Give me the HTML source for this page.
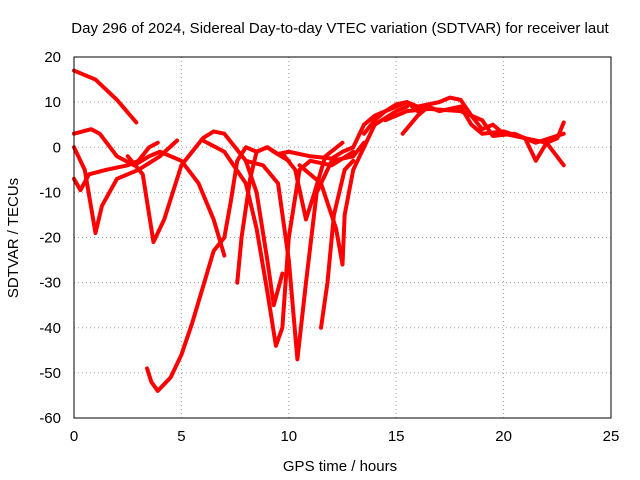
<!DOCTYPE html>
<html><head><meta charset="utf-8"><style>
body{margin:0;background:#fff;}
svg{display:block;font-family:"Liberation Sans",sans-serif;}
</style></head><body>
<svg id="chart" width="640" height="480" viewBox="0 0 640 480">
<rect width="640" height="480" fill="#fff"/>
<text x="340" y="33" font-size="15" text-anchor="middle">Day 296 of 2024, Sidereal Day-to-day VTEC variation (SDTVAR) for receiver laut</text>
<text x="340" y="471" font-size="15" text-anchor="middle">GPS time / hours</text>
<text transform="translate(18,238) rotate(-90)" font-size="15" text-anchor="middle">SDTVAR / TECUs</text>
<g id="grid"></g><g id="ticks"></g><g id="series"></g>
<rect x="74" y="57" width="537" height="361" fill="none" stroke="#000" stroke-width="1"/>
</svg>
<script>
const xTicks=[0,5,10,15,20,25];
const yTicks=[20,10,0,-10,-20,-30,-40,-50,-60];
const s1=[[0,17],[1,15],[2,10.5],[2.9,5.5]];
const s2=[[0,3],[0.8,4],[1.2,3],[2,-2],[2.8,-4],[3.5,-2],[4,-1],[4.5,-2],[5,-3],[5.8,-8],[6.5,-16],[7,-24]];
const s3=[[0,0],[0.5,-5],[1,-19],[1.3,-13],[2,-7],[3,-5],[4,-2],[4.8,1.5]];
const s4=[[0,-7],[0.3,-9.5],[0.7,-6],[1.5,-5],[2.5,-4],[3,-3],[3.5,0],[3.9,1]];
const s5=[[2.5,-2],[3.2,-6],[3.7,-21],[4.2,-16],[5,-4],[5.5,-1],[6,2],[6.5,3.5],[7,3],[7.5,0],[8,-3],[8.5,-10],[9,-25],[9.3,-35],[9.7,-28]];
const s6=[[3.4,-49],[3.6,-52],[3.9,-54],[4.5,-51],[5,-46],[5.5,-39],[6,-31],[6.5,-23],[7,-20],[7.3,-12],[7.6,-3],[8,0],[8.5,-1],[9,0],[9.5,-1.5],[10,-1],[11,-2],[12,-2.5],[12.5,-1],[13,0],[13.5,5],[14,7],[15,9],[15.5,10],[16,8]];
const s7=[[7.6,-30],[7.8,-20],[8.2,-7],[8.5,-1],[9,0],[9.3,-1],[10,-3]];
const s8=[[6,1.5],[7,-1],[8,-8],[8.5,-18],[9,-32],[9.4,-44],[9.7,-40],[10,-20],[10.5,-5],[11,-3],[12,-4],[13,-1]];
const s9=[[8,-3],[8.8,-4],[9.5,-8],[10,-25],[10.4,-47],[10.8,-30],[11.3,-10],[12,-3],[13,-2],[13.5,1]];
const s10=[[9.8,-2],[10.3,-5],[10.8,-16],[11.2,-10],[11.7,-2],[12.5,1]];
const s11=[[11.5,-40],[11.8,-30],[12.1,-15],[12.6,-5],[13,-3]];
const s12=[[10.5,-4],[11.5,-8],[12.2,-18],[12.5,-26],[12.6,-15],[13,-5],[13.5,0],[14,5],[15,8],[15.5,9]];
const s13=[[13.5,3],[14,6],[14.5,8],[15,9.5],[15.5,10],[16,9],[17,10],[17.5,11],[18,10.5],[18.5,7],[19,4],[19.5,5],[20,3],[21,2],[22,1],[22.8,-4]];
const s14=[[15.3,3],[16,7],[16.5,9],[17,8],[18,9],[18.5,5],[19,3],[20,3.5],[21,2],[21.5,-3],[22,1],[22.5,2],[22.8,5.5]];
const s15=[[14.5,6],[15.5,8],[16.5,8.5],[18,8],[19,6],[19.5,2.5],[20.5,3],[21.5,1],[22.8,3]];
const allSeries=[s1,s2,s3,s4,s5,s6,s7,s8,s9,s10,s11,s12,s13,s14,s15];
const NS="http://www.w3.org/2000/svg";
const X=t=>74+t*537/25;
const Y=v=>57+(20-v)*361/80;
const grid=document.getElementById('grid'),ticks=document.getElementById('ticks'),ser=document.getElementById('series');
function mk(tag,attrs,parent){const e=document.createElementNS(NS,tag);for(const k in attrs)e.setAttribute(k,attrs[k]);parent.appendChild(e);return e;}
xTicks.forEach(t=>{
 if(t>0&&t<25){const g=mk('line',{x1:X(t),x2:X(t),y1:57,y2:418,stroke:'#a0a0a0','stroke-dasharray':'1,3'},grid);
 
 }
 const l=mk('text',{x:X(t),y:441,'font-size':15,'text-anchor':'middle'},ticks);l.textContent=t;
 
 
});
yTicks.forEach(v=>{
 if(v<20&&v>-60){const g=mk('line',{x1:74,x2:611,y1:Y(v),y2:Y(v),stroke:'#a0a0a0','stroke-dasharray':'1,3'},grid);
 
 }
 const l=mk('text',{x:61,y:Y(v)+5,'font-size':15,'text-anchor':'end'},ticks);l.textContent=v;
 
 
});
allSeries.forEach(s=>{
 const p=mk('polyline',{points:s.map(d=>X(d[0])+','+Y(d[1])).join(' '),fill:'none',stroke:'#ff0000','stroke-width':4,'stroke-linejoin':'round','stroke-linecap':'round'},ser);
 
 
});
</script>
</body></html>
